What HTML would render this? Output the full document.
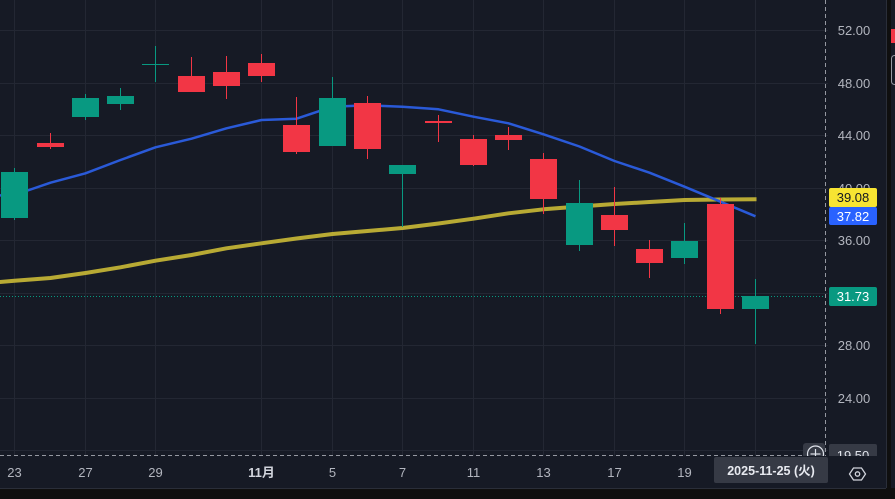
<!DOCTYPE html>
<html><head><meta charset="utf-8"><style>
html,body{margin:0;padding:0;background:#161a25;overflow:hidden}
svg{display:block}
text{font-family:"Liberation Sans","Noto Sans CJK JP",sans-serif}
</style></head><body>
<svg width="895" height="499" viewBox="0 0 895 499" xmlns="http://www.w3.org/2000/svg">
<rect x="0" y="0" width="895" height="499" fill="#161a25"/>
<defs><clipPath id="pane"><rect x="0" y="0" width="828" height="456"/></clipPath></defs>
<g clip-path="url(#pane)" shape-rendering="crispEdges">
<!-- horizontal grid -->
<g fill="#232733">
<rect x="0" y="30" width="828" height="1"/><rect x="0" y="83" width="828" height="1"/><rect x="0" y="135" width="828" height="1"/><rect x="0" y="188" width="828" height="1"/><rect x="0" y="240" width="828" height="1"/><rect x="0" y="293" width="828" height="1"/><rect x="0" y="345" width="828" height="1"/><rect x="0" y="398" width="828" height="1"/><rect x="0" y="450" width="828" height="1"/>
<!-- vertical grid -->
<rect x="14" y="0" width="1" height="456"/><rect x="85" y="0" width="1" height="456"/><rect x="155" y="0" width="1" height="456"/><rect x="261" y="0" width="1" height="456"/><rect x="332" y="0" width="1" height="456"/><rect x="402" y="0" width="1" height="456"/><rect x="473" y="0" width="1" height="456"/><rect x="543" y="0" width="1" height="456"/><rect x="614" y="0" width="1" height="456"/><rect x="684" y="0" width="1" height="456"/><rect x="755" y="0" width="1" height="456"/>
</g>
</g>
<g clip-path="url(#pane)">
<!-- MAs -->
<polyline fill="none" stroke="#b8aa34" stroke-width="4" stroke-linejoin="round" points="-21,284 14.5,280.7 50.5,278 85.5,273 120.5,267.3 155.5,260.7 191.5,255 226.5,248.3 261.5,243.3 296.5,238.5 332.5,234 367.5,231 402.5,228 438.5,223.5 473.5,218.7 508.5,213.3 543.5,209.3 579.5,206.5 614.5,204 649.5,202 684.5,200 720.5,199.5 756.5,199.3"/>
<polyline fill="none" stroke="#2a5ad8" stroke-width="2.5" stroke-linejoin="round" points="-21,196 14.5,195 50.5,182.7 85.5,173.3 120.5,160 155.5,147.3 191.5,138.7 226.5,128.3 261.5,120 296.5,118.7 332.5,106.7 367.5,105.3 402.5,106.7 438.5,109.3 473.5,116.7 508.5,123.3 543.5,134.3 579.5,146.5 614.5,161 649.5,172.7 684.5,186.7 720.5,201.7 755.5,216.3"/>
<!-- current price dotted line -->
<line x1="0" y1="296.5" x2="828" y2="296.5" stroke="#089981" stroke-width="1" stroke-dasharray="1,2"/>
</g>
<g clip-path="url(#pane)" shape-rendering="crispEdges">
<!-- green candles -->
<g fill="#089981">
<rect x="14" y="168" width="1" height="52"/><rect x="1" y="172" width="27" height="46"/>
<rect x="85" y="94" width="1" height="26"/><rect x="72" y="98" width="27" height="19"/>
<rect x="120" y="88" width="1" height="22"/><rect x="107" y="96" width="27" height="8"/>
<rect x="155" y="46" width="1" height="36"/><rect x="142" y="64" width="27" height="1"/>
<rect x="332" y="77" width="1" height="69"/><rect x="319" y="98" width="27" height="48"/>
<rect x="402" y="165" width="1" height="62"/><rect x="389" y="165" width="27" height="9"/>
<rect x="579" y="180" width="1" height="71"/><rect x="566" y="203" width="27" height="42"/>
<rect x="684" y="223" width="1" height="41"/><rect x="671" y="241" width="27" height="17"/>
<rect x="755" y="279" width="1" height="65"/><rect x="742" y="296" width="27" height="13"/>
</g>
<!-- red candles -->
<g fill="#f23645">
<rect x="50" y="133" width="1" height="16"/><rect x="37" y="143" width="27" height="4"/>
<rect x="191" y="57" width="1" height="35"/><rect x="178" y="76" width="27" height="16"/>
<rect x="226" y="56" width="1" height="43"/><rect x="213" y="72" width="27" height="14"/>
<rect x="261" y="54" width="1" height="28"/><rect x="248" y="63" width="27" height="13"/>
<rect x="296" y="97" width="1" height="57"/><rect x="283" y="125" width="27" height="27"/>
<rect x="367" y="96" width="1" height="63"/><rect x="354" y="103" width="27" height="46"/>
<rect x="438" y="115" width="1" height="27"/><rect x="425" y="121" width="27" height="2"/>
<rect x="473" y="135" width="1" height="31"/><rect x="460" y="139" width="27" height="26"/>
<rect x="508" y="127" width="1" height="23"/><rect x="495" y="135" width="27" height="5"/>
<rect x="543" y="153" width="1" height="61"/><rect x="530" y="159" width="27" height="40"/>
<rect x="614" y="187" width="1" height="59"/><rect x="601" y="215" width="27" height="15"/>
<rect x="649" y="240" width="1" height="38"/><rect x="636" y="249" width="27" height="14"/>
<rect x="720" y="198" width="1" height="116"/><rect x="707" y="204" width="27" height="105"/>
</g>
</g>
<!-- crosshair -->
<line x1="825.5" y1="0" x2="825.5" y2="456" stroke="#9598a1" stroke-width="1" stroke-dasharray="4,3"/>
<line x1="0" y1="455.5" x2="826" y2="455.5" stroke="#9598a1" stroke-width="1" stroke-dasharray="4,3"/>
<!-- price axis labels -->
<g fill="#b2b5be" font-size="13" text-anchor="middle">
<text x="854" y="35">52.00</text>
<text x="854" y="88">48.00</text>
<text x="854" y="140">44.00</text>
<text x="854" y="193">40.00</text>
<text x="854" y="245">36.00</text>
<text x="854" y="350">28.00</text>
<text x="854" y="403">24.00</text>
</g>
<rect x="829" y="188" width="48" height="19" rx="2" fill="#f7e432"/>
<text x="853" y="202" font-size="13" text-anchor="middle" fill="#131722">39.08</text>
<rect x="829" y="207" width="48" height="18" rx="2" fill="#2962ff"/>
<text x="853" y="221" font-size="13" text-anchor="middle" fill="#ffffff">37.82</text>
<rect x="829" y="287" width="48" height="19" rx="2" fill="#089981"/>
<text x="853" y="301" font-size="13" text-anchor="middle" fill="#ffffff">31.73</text>
<!-- crosshair price label (clipped) -->
<svg x="803" y="440" width="80" height="16" overflow="hidden">
<rect x="0" y="3" width="22" height="20" rx="3" fill="#363a45"/>
<circle cx="12.5" cy="14" r="8" fill="none" stroke="#e0e3eb" stroke-width="1.2"/>
<line x1="12.5" y1="9" x2="12.5" y2="19" stroke="#e0e3eb" stroke-width="1.2"/>
<line x1="7.5" y1="14" x2="17.5" y2="14" stroke="#e0e3eb" stroke-width="1.2"/>
<rect x="26" y="4" width="48" height="20" rx="2" fill="#363a45"/>
<text x="50" y="20" font-size="13" text-anchor="middle" fill="#e0e3eb">19.50</text>
</svg>
<!-- time axis -->
<g fill="#b2b5be" font-size="13" text-anchor="middle">
<text x="14.5" y="477">23</text>
<text x="85.5" y="477">27</text>
<text x="155.5" y="477">29</text>
<text x="261.5" y="477" font-weight="bold" fill="#d1d4dc">11月</text>
<text x="332.5" y="477">5</text>
<text x="402.5" y="477">7</text>
<text x="473.5" y="477">11</text>
<text x="543.5" y="477">13</text>
<text x="614.5" y="477">17</text>
<text x="684.5" y="477">19</text>
</g>
<rect x="714" y="457" width="114" height="26" rx="2" fill="#363a45"/>
<text x="771" y="475" font-size="12.5" font-weight="bold" text-anchor="middle" fill="#e8eaf0">2025-11-25 (火)</text>
<!-- settings hexagon -->
<polygon points="849.5,474 853.5,468 861.5,468 865.5,474 861.5,480 853.5,480" fill="none" stroke="#d1d4dc" stroke-width="1.3"/>
<circle cx="857.5" cy="474" r="2.2" fill="none" stroke="#d1d4dc" stroke-width="1.3"/>
<!-- bottom strip -->
<rect x="0" y="488" width="895" height="11" fill="#0f0f0f"/>
<rect x="0" y="488" width="887" height="1" fill="#2a2e39"/>
<!-- right strip -->
<rect x="886" y="0" width="9" height="499" fill="#0f0f0f"/>
<rect x="886" y="0" width="1" height="488" fill="#2a2e39"/>
<rect x="891" y="0" width="4" height="488" fill="#161a25"/>
<rect x="891" y="29" width="4" height="14" fill="#f23645"/>
<rect x="891.5" y="55.5" width="8" height="29" rx="3" fill="none" stroke="#9598a1" stroke-width="1"/>
</svg>
</body></html>
